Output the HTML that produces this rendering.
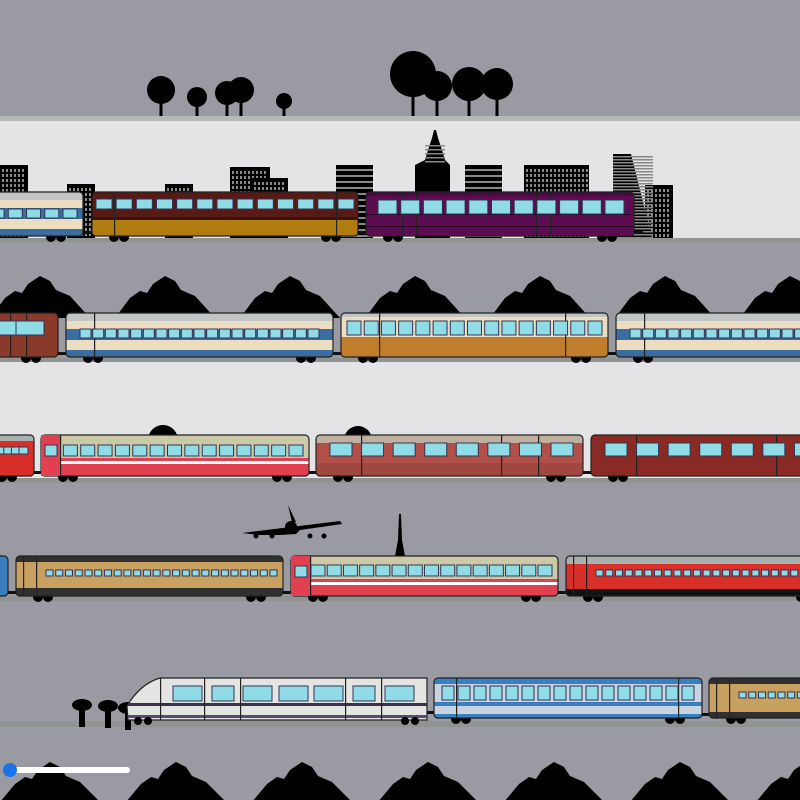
<!DOCTYPE html>
<html><head><meta charset="utf-8"><style>html,body{margin:0;padding:0;background:#9a9aa2}svg{display:block}</style></head>
<body>
<svg id="s" width="800" height="800" viewBox="0 0 800 800" xmlns="http://www.w3.org/2000/svg"></svg>
<script>
var o='';
function r(x,y,w,h,c,extra){o+='<rect x="'+x+'" y="'+y+'" width="'+w+'" height="'+h+'" fill="'+c+'" '+(extra||'')+'/>';}
r(0,0,800,800,'#9a9aa2');
r(0,116,800,5,'#b6bab6');
r(0,121,800,117,'#e4e4e6');
r(0,238,800,4,'#8f9391');
r(0,358,800,4,'#8f9391');
r(0,362,800,118,'#e4e4e6');
r(0,478,800,5,'#8f9391');
r(0,596,800,5,'#8f9391');
r(0,721,800,6,'#8f9391');
[[161,90,14],[197,97,10],[227,93,12],[241,90,13],[284,101,8],[413,74,23],[437,86,15],[469,84,17],[497,84,16]].forEach(function(t){
 r(t[0]-1.5,t[1],3,116-t[1],'#000');o+='<circle cx="'+t[0]+'" cy="'+t[1]+'" r="'+t[2]+'" fill="#000"/>';});
function bld(x,y,w,h,stripe){r(x,y,w,238-y,'#000');
 if(stripe){for(var yy=y+4;yy<238;yy+=6)r(x,yy,w,2,'#888');}
 else{for(var yy=y+4;yy<236;yy+=5)for(var xx=x+2;xx<x+w-2;xx+=4)r(xx,yy,2,3,'#888');}}
bld(0,165,28,73);bld(67,184,28,54);bld(165,184,28,54);bld(230,167,40,71);bld(252,178,36,60);
bld(336,165,37,73,1);bld(465,165,37,73,1);bld(524,165,65,73);bld(645,185,28,53);
o+='<polygon points="415,238 415,165 425,160 428,150 432,138 434,130 436,130 438,138 442,150 445,160 450,165 450,238" fill="#000"/>';
for(var yy=145;yy<165;yy+=4)r(425,yy,20,1.5,'#888');
o+='<polygon points="613,154 631,154 652,238 613,238" fill="#000"/>';
for(var yy=156;yy<238;yy+=3)r(613,yy,40,1.5,'#888');
function mtn(base,peak,period,off){var p='M0,'+base;for(var x=-off;x<860;x+=period){p+=' L'+(x+10)+','+base+' L'+(x+25)+','+(peak+22)+' L'+(x+35)+','+(peak+15)+' L'+(x+42)+','+(peak+17)+' L'+(x+48)+','+(peak+8)+' L'+(x+60)+','+peak+' L'+(x+70)+','+(peak+5)+' L'+(x+76)+','+(peak+14)+' L'+(x+90)+','+(peak+20)+' L'+(x+110)+','+base;}
 p+=' L800,'+base+' Z';o+='<path d="'+p+'" fill="#000"/>';}
mtn(318,276,125,20);
mtn(802,762,126,10);
o+='<circle cx="163" cy="440" r="15" fill="#000"/><circle cx="358" cy="440" r="14" fill="#000"/>';
o+='<path d="M242,533 L340,521 L342,524 L300,530 L296,534 L280,535 L260,535 Z" fill="#000"/><path d="M288,505 L292,522 L296,522 Z" fill="#000"/><circle cx="291" cy="527" r="6" fill="#000"/>';
[256,272,310,324].forEach(function(x){o+='<circle cx="'+x+'" cy="536" r="2.5" fill="#000"/>';});
o+='<polygon points="399,514 401,514 402,540 405,556 395,556 398,540" fill="#000"/>';
[[82,705],[108,706],[128,708]].forEach(function(m){o+='<ellipse cx="'+m[0]+'" cy="'+m[1]+'" rx="10" ry="6" fill="#000"/>';r(m[0]-3,m[1],6,22,'#000');});
function car(x,y,w,h,layers,win,opts){opts=opts||{};
 var cy=y+h;
 [x+22,x+32,x+w-32,x+w-22].forEach(function(wx){o+='<circle cx="'+wx+'" cy="'+(cy+1)+'" r="5" fill="#000"/>';});
 o+='<g><clipPath id="c'+x+'_'+y+'"><rect x="'+x+'" y="'+y+'" width="'+w+'" height="'+h+'" rx="4"/></clipPath><g clip-path="url(#c'+x+'_'+y+')">';
 layers.forEach(function(l){r(x,y+l[0],w,l[1],l[2]);});
 if(opts.lines)opts.lines.forEach(function(lx){r(x+lx,y,1.2,h,'#222');});
 o+='</g></g>';
 var n=win.n,ww=win.w,gap=(w-win.s-win.e-n*ww)/(n-1);
 for(var i=0;i<n;i++)r(x+win.s+i*(ww+gap),y+win.y,ww,win.h,'#8fdce6','stroke="#335" stroke-width="1"');
 o+='<rect x="'+x+'" y="'+y+'" width="'+w+'" height="'+h+'" rx="4" fill="none" stroke="#222" stroke-width="1.2"/>';
 r(x+w,cy-5,9,3,'#111');}
var cream=[[0,8,'#c0c4c4'],[8,8,'#ecdcc0'],[16,11,'#3a6ea0'],[27,10,'#ecdcc0'],[37,7,'#3a6ea0']];
car(-180,192,263,44,cream,{y:17,h:9,n:14,w:14,s:6,e:6});
car(92,192,266,44,[[0,25,'#581a14'],[25,3,'#3a1208'],[28,16,'#b07c10']],{y:7,h:10,n:13,w:16,s:4,e:4},{lines:[22,244]});
car(366,192,268,44,[[0,4,'#4a0a40'],[4,40,'#5c0c50'],[22,1,'#2a0020'],[34,1,'#2a0020']],{y:8,h:14,n:11,w:19,s:12,e:10},{lines:[36,50,170,184]});
car(-210,313,268,44,[[0,44,'#8a3a2a']],{y:8,h:14,n:9,w:28,s:8,e:14},{lines:[220,236]});
car(66,313,267,44,cream,{y:16,h:9,n:19,w:11,s:14,e:14},{lines:[28]});
car(341,313,267,44,[[0,4,'#c0c4c4'],[4,20,'#ecdcc0'],[24,20,'#c07e2c']],{y:8,h:14,n:15,w:14,s:6,e:6},{lines:[38,224]});
car(616,313,267,44,cream,{y:16,h:9,n:19,w:11,s:14,e:14},{lines:[28]});
car(-230,435,264,41,[[0,6,'#a8b0b0'],[6,35,'#d83028']],{y:12,h:7,n:14,w:9,s:150,e:6});
var rk=[[0,23,'#cccaa6'],[23,3,'#e04050'],[26,3,'#fff'],[29,12,'#e04050']];
car(41,435,268,41,rk,{y:10,h:11,n:15,w:14,s:5,e:6},{lines:[19]});
r(41,435,19,41,'#e04050');r(45,445,12,11,'#8fdce6','stroke="#335"');
car(316,435,267,41,[[0,8,'#c0b0a0'],[8,20,'#b05048'],[28,13,'#a04840']],{y:8,h:13,n:8,w:22,s:14,e:10},{lines:[45,185,222]});
car(591,435,267,41,[[0,41,'#8a2a24']],{y:8,h:13,n:8,w:22,s:14,e:10},{lines:[45,185,222]});
car(-250,556,258,40,[[0,40,'#3a80c0']],{y:10,h:10,n:10,w:10,s:10,e:10});
car(16,556,267,40,[[0,6,'#303030'],[6,34,'#c8a060'],[32,8,'#303030']],{y:14,h:6,n:24,w:7,s:30,e:6},{lines:[7,20]});
car(291,556,267,40,rk,{y:9,h:11,n:15,w:14,s:20,e:6},{lines:[19]});
r(291,556,19,40,'#e04050');r(295,566,12,11,'#8fdce6','stroke="#335"');
car(566,556,267,40,[[0,8,'#a8b0b0'],[8,25,'#d83028'],[33,7,'#111']],{y:14,h:6,n:24,w:7,s:30,e:6},{lines:[7,20]});
o+='<path d="M160,678 L427,678 L427,720 L128,720 L127,706 Q140,684 160,678 Z" fill="#e4e4e2" stroke="#222" stroke-width="1.2"/>';
r(128,703,299,3,'#3a3050');r(128,715,299,3,'#5a4a70');
[160,204,240,345,381].forEach(function(l){r(l,678,1.2,42,'#222');});
[[173,29],[212,22],[243,29],[279,29],[314,29],[353,22],[385,29]].forEach(function(w){r(w[0],686,w[1],15,'#8fdce6','stroke="#335"');});
[138,148,405,415].forEach(function(wx){o+='<circle cx="'+wx+'" cy="721" r="4" fill="#000"/>';});
r(427,711,8,3,'#111');
car(434,678,268,40,[[0,6,'#3a80c0'],[6,18,'#c8d4e0'],[24,4,'#3a80c0'],[28,12,'#c8d4e0'],[36,4,'#3a80c0']],{y:8,h:14,n:16,w:12,s:8,e:8},{lines:[22,244]});
car(709,678,267,40,[[0,6,'#303030'],[6,28,'#c8a060'],[34,6,'#303030']],{y:14,h:6,n:24,w:7,s:30,e:6},{lines:[7,20]});
r(10,767,120,6,'#fff','rx="3"');
o+='<circle cx="10" cy="770" r="7" fill="#1a73e8"/>';
document.getElementById('s').innerHTML=o;
</script>
</body></html>
